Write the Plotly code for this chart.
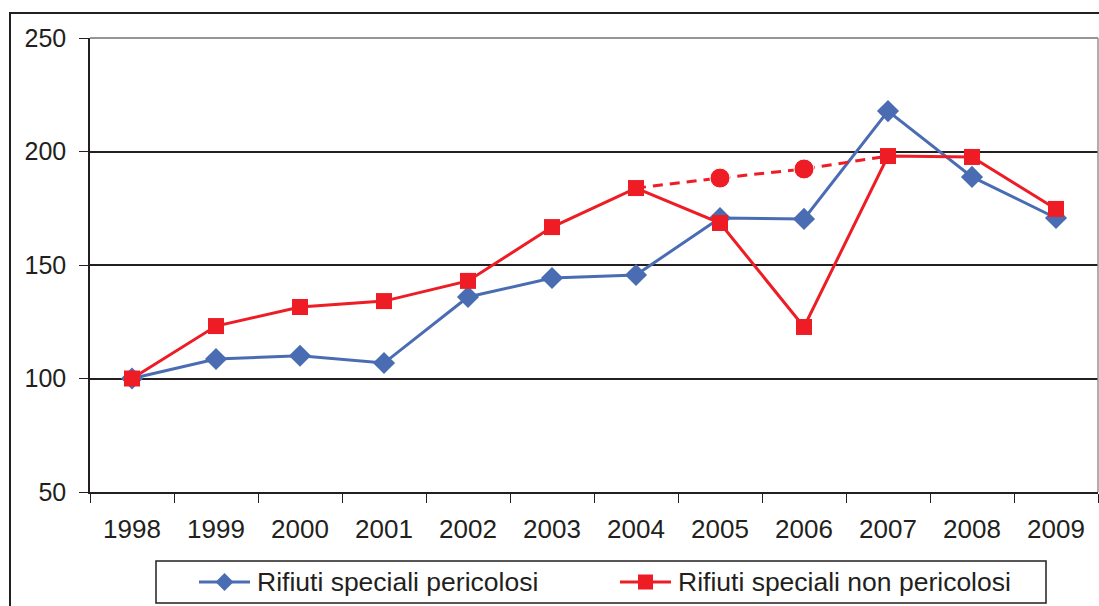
import plotly.graph_objects as go

years = ["1998", "1999", "2000", "2001", "2002", "2003", "2004", "2005", "2006", "2007", "2008", "2009"]
pericolosi = [100, 108.6, 110, 106.8, 135.9, 144.3, 145.6, 170.7, 170.3, 217.8, 188.8, 170.7]
non_pericolosi = [100, 123.1, 131.5, 134.1, 143, 166.7, 183.9, 168.5, 122.7, 198, 197.6, 174.7]
dashed_years = ["2004", "2005", "2006", "2007"]
dashed_values = [183.9, 188.3, 192.3, 198]
legend_names = ["Rifiuti speciali pericolosi", "Rifiuti speciali non pericolosi"]

BLUE = "#4a6cb3"
RED = "#ee1c25"
TXT = "#231f20"

# plot area in pixels
L, R, T, B = 90, 1098, 38, 492
W, H = R - L, B - T


def px(x):
    return (x - L) / W


def py(y):
    return (B - y) / H


fig = go.Figure()
fig.add_trace(go.Scatter(
    x=years, y=pericolosi, mode="lines+markers", name=legend_names[0], showlegend=False,
    line=dict(color=BLUE, width=3), marker=dict(symbol="diamond", size=17, color=BLUE, opacity=1)))
fig.add_trace(go.Scatter(
    x=dashed_years, y=dashed_values, mode="lines+markers", showlegend=False,
    line=dict(color=RED, width=3, dash="10px,7px"),
    marker=dict(symbol="circle", size=[0, 20, 20, 0], color=RED, opacity=1)))
fig.add_trace(go.Scatter(
    x=years, y=non_pericolosi, mode="lines+markers", name=legend_names[1], showlegend=False,
    line=dict(color=RED, width=3), marker=dict(symbol="square", size=16, color=RED, opacity=1)))

shapes = [
    dict(type="line", xref="paper", yref="paper", x0=0, x1=1, y0=1, y1=1,
         line=dict(color="#939598", width=2)),
    dict(type="line", xref="paper", yref="paper", x0=1, x1=1, y0=0, y1=1,
         line=dict(color="#939598", width=1.5)),
    dict(type="rect", xref="paper", yref="paper", x0=px(10), x1=px(1130),
         y0=py(700), y1=py(13), line=dict(color=TXT, width=2), layer="below"),
    # legend box
    dict(type="rect", xref="paper", yref="paper", x0=px(156), x1=px(1046),
         y0=py(603), y1=py(561), line=dict(color=TXT, width=1.5), fillcolor="white"),
]
ly = 582
# item 1 : blue line + diamond
shapes.append(dict(type="line", xref="paper", yref="paper", x0=px(199), x1=px(250),
                   y0=py(ly), y1=py(ly), line=dict(color=BLUE, width=3)))
cx, d = 224.5, 9
shapes.append(dict(type="path", xref="paper", yref="paper",
                   path=f"M {px(cx - d)},{py(ly)} L {px(cx)},{py(ly - d)} L {px(cx + d)},{py(ly)} L {px(cx)},{py(ly + d)} Z",
                   fillcolor=BLUE, line=dict(color=BLUE, width=0)))
# item 2 : red line + square
shapes.append(dict(type="line", xref="paper", yref="paper", x0=px(620), x1=px(671),
                   y0=py(ly), y1=py(ly), line=dict(color=RED, width=3)))
cx, s = 645.5, 7.5
shapes.append(dict(type="rect", xref="paper", yref="paper", x0=px(cx - s), x1=px(cx + s),
                   y0=py(ly + s), y1=py(ly - s), fillcolor=RED, line=dict(color=RED, width=0)))

annotations = [
    dict(xref="paper", yref="paper", x=px(255), y=py(ly), text=legend_names[0], showarrow=False,
         xanchor="left", yanchor="middle", font=dict(size=26.5, color=TXT)),
    dict(xref="paper", yref="paper", x=px(676), y=py(ly), text=legend_names[1], showarrow=False,
         xanchor="left", yanchor="middle", font=dict(size=26.5, color=TXT)),
]

fig.update_layout(
    width=1099, height=606,
    margin=dict(l=L, r=1099 - R, t=T, b=606 - B, autoexpand=False),
    paper_bgcolor="white", plot_bgcolor="white",
    font=dict(family="Liberation Sans, Arial, sans-serif", size=26, color=TXT),
    showlegend=False,
    xaxis=dict(type="category", range=[-0.5, 11.5], tickson="boundaries", ticks="outside", ticklen=9,
               tickcolor=TXT, showline=True, linecolor=TXT, linewidth=1.5, ticklabelstandoff=13,
               showgrid=False, tickfont=dict(size=26, color=TXT), automargin=False),
    yaxis=dict(range=[50, 250], dtick=50, ticks="outside", ticklen=9, tickcolor=TXT,
               showline=True, linecolor=TXT, linewidth=1.5, ticklabelstandoff=8,
               showgrid=True, gridcolor=TXT, gridwidth=1.5,
               tickfont=dict(size=25, color=TXT), zeroline=False, automargin=False),
    shapes=shapes,
    annotations=annotations,
)

fig.write_html("out.html", config={"displayModeBar": False},
               post_script="document.body.style.margin='0';document.body.style.overflow='hidden';")
